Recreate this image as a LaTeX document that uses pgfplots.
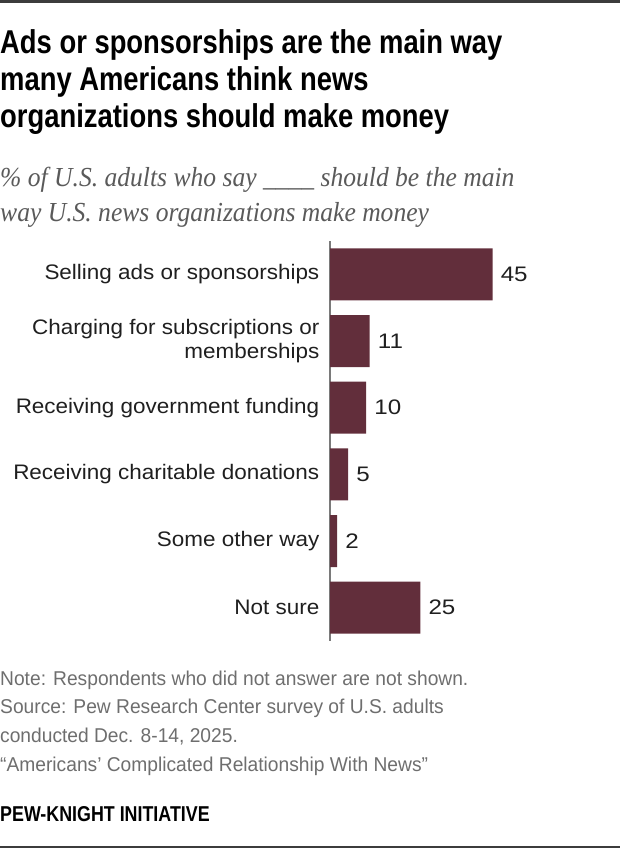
\documentclass[border=0pt]{standalone}
\usepackage{fontspec}
\usepackage{pgfplots}
\pgfplotsset{compat=1.18}
\setmainfont{Liberation Sans}
\newfontfamily\titlefont[FakeStretch=0.83]{Liberation Sans}
\newfontfamily\subfont[FakeStretch=0.93]{Liberation Serif}
\newfontfamily\labfont[FakeStretch=1.07]{Liberation Sans}
\newfontfamily\valfont[FakeStretch=1.15]{Liberation Sans}
\newfontfamily\notefont[FakeStretch=0.96]{Liberation Sans}
\definecolor{barcol}{HTML}{622E3B}
\definecolor{subgray}{HTML}{5A5A5A}
\definecolor{notegray}{HTML}{6E6E6E}
\definecolor{axgray}{HTML}{7A7A7A}
\definecolor{rulegray}{HTML}{3C3C3C}
\begin{document}
\begin{tikzpicture}
\useasboundingbox (0pt,0pt) rectangle (620pt,-848pt);
\fill[rulegray] (0pt,0pt) rectangle (620pt,-3pt);
\fill[rulegray] (0pt,-845.5pt) rectangle (620pt,-848pt);
% title
\begin{scope}[every node/.style={anchor=base west, inner sep=0pt, text=black}]
\node at (0pt,-53.3pt) {\titlefont\bfseries\fontsize{33}{37}\selectfont Ads or sponsorships are the main way};
\node at (0pt,-90.5pt) {\titlefont\bfseries\fontsize{33}{37}\selectfont many Americans think news};
\node at (0pt,-127.8pt) {\titlefont\bfseries\fontsize{33}{37}\selectfont organizations should make money};
\node[text=subgray] at (0pt,-186pt) {\subfont\itshape\fontsize{27.5}{36}\selectfont \% of U.S. adults who say \_\_\_\_ should be the main};
\node[text=subgray] at (0pt,-221.5pt) {\subfont\itshape\fontsize{27.5}{36}\selectfont way U.S. news organizations make money};
\node[text=notegray] at (0pt,-685pt) {\notefont\fontsize{20}{24}\selectfont Note: Respondents who did not answer are not shown.};
\node[text=notegray] at (0pt,-713.5pt) {\notefont\fontsize{20}{24}\selectfont Source: Pew Research Center survey of U.S. adults};
\node[text=notegray] at (0pt,-742.5pt) {\notefont\fontsize{20}{24}\selectfont conducted Dec. 8-14, 2025.};
\node[text=notegray] at (0pt,-771.5pt) {\notefont\fontsize{20}{24}\selectfont \char"201C Americans\char"2019\ Complicated Relationship With News\char"201D};
\node at (0pt,-821.7pt) {\titlefont\bfseries\fontsize{21.5}{24}\selectfont PEW-KNIGHT INITIATIVE};
\end{scope}
\begin{axis}[
  at={(330pt,-241pt)}, anchor=north west,
  scale only axis, width=290pt, height=400pt,
  xmin=0, xmax=80.28,
  ymin=-0.5, ymax=5.5, y dir=reverse,
  xbar, bar width=52pt, bar shift=0pt,
  axis x line=none, axis y line=left,
  axis line style={-, draw=axgray, line width=1.6pt},
  ytick={0,1,2,3,4,5},
  yticklabels={Selling ads or sponsorships, Charging for subscriptions or\\memberships, Receiving government funding, Receiving charitable donations, Some other way, Not sure},
  yticklabel style={align=right, inner sep=0pt, xshift=-10.5pt, text=black!88, font=\labfont\fontsize{21}{23.5}\selectfont},
  major tick length=0pt,
  /pgf/number format/assume math mode=true,
  nodes near coords,
  nodes near coords style={anchor=west, inner sep=0pt, xshift=8pt, text=black!88, font=\valfont\fontsize{21}{24}\selectfont},
  clip=false,
]
\addplot[fill=barcol, draw=none] coordinates {(45,0) (11,1) (10,2) (5,3) (2,4) (25,5)};
\end{axis}
\end{tikzpicture}
\end{document}
